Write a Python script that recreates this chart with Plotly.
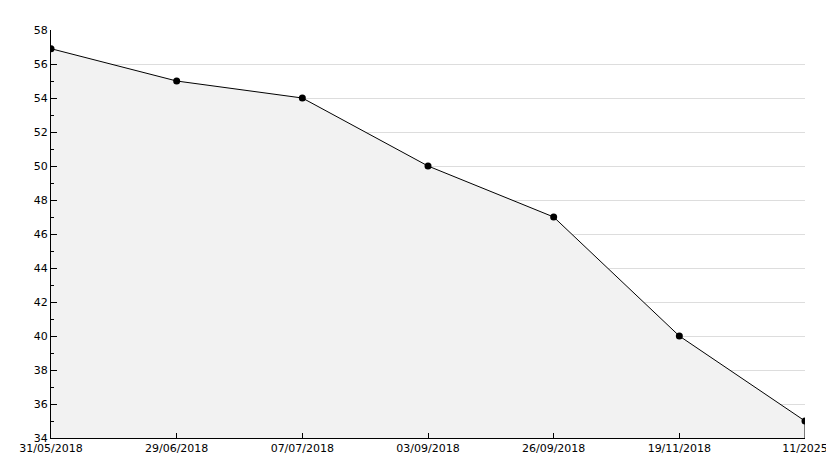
import plotly.graph_objects as go

dates = ["31/05/2018", "29/06/2018", "07/07/2018", "03/09/2018",
         "26/09/2018", "19/11/2018", "11/2025"]
values = [56.9, 55, 54, 50, 47, 40, 35]
y_min, y_max = 34, 58

fig = go.Figure()

# filled area under the line
fig.add_trace(go.Scatter(
    x=dates,
    y=values,
    mode='lines+markers',
    fill='tozeroy',
    fillcolor='#f2f2f2',
    line=dict(color='#000000', width=1),
    marker=dict(color='#000000', size=7, symbol='circle'),
    hoverinfo='x+y',
    showlegend=False
))

# closing edge of the area at the last date
fig.add_trace(go.Scatter(
    x=[dates[-1], dates[-1]],
    y=[values[-1], y_min],
    mode='lines',
    line=dict(color='#000000', width=1),
    hoverinfo='skip',
    showlegend=False
))

fig.update_layout(
    width=834,
    height=468,
    paper_bgcolor='#ffffff',
    plot_bgcolor='#ffffff',
    font=dict(family='DejaVu Sans', size=11, color='#000000'),
    margin=dict(t=22, b=38, l=43, r=37),
    xaxis=dict(
        type='category',
        range=[0, len(dates) - 1],
        showgrid=False,
        showline=True,
        linecolor='#000000',
        linewidth=1,
        ticks='inside',
        ticklen=5,
        tickcolor='#000000',
        zeroline=False,
        automargin=False
    ),
    yaxis=dict(
        range=[y_min, y_max],
        dtick=2,
        showgrid=True,
        gridcolor='#dddddd',
        gridwidth=1,
        showline=True,
        linecolor='#000000',
        linewidth=1,
        ticks='inside',
        ticklen=6,
        tickcolor='#000000',
        zeroline=False,
        automargin=False,
        minor=dict(dtick=1, ticks='inside', ticklen=3, tickcolor='#000000', showgrid=False)
    )
)

fig.write_html("out.html")
